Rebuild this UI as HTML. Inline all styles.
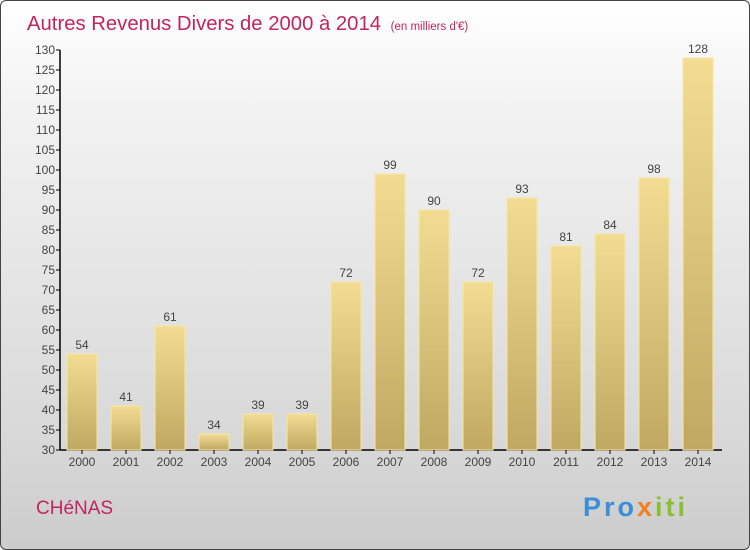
<!DOCTYPE html>
<html><head><meta charset="utf-8"><style>
body{margin:0;width:750px;height:550px;overflow:hidden;font-family:"Liberation Sans",sans-serif}
#c{position:absolute;left:0;top:0;width:748px;height:548px;border:1px solid #444;border-radius:6px;background:linear-gradient(#ffffff,#f2f2f2 20%,#d8d8d8 80%,#cccccc)}
</style></head><body>
<div id="c"></div>
<svg id="s" width="750" height="550" style="position:absolute;left:0;top:0" font-family="Liberation Sans, sans-serif">
<defs><linearGradient id="g" x1="0" y1="0" x2="0" y2="1"><stop offset="0" stop-color="#f3dc92"/><stop offset="1" stop-color="#c0a862"/></linearGradient></defs>
<text x="27" y="30" font-size="20.3" fill="#c2255e">Autres Revenus Divers de 2000 à 2014 <tspan font-size="11.5" dx="4">(en milliers d'€)</tspan></text>
<text x="36" y="514" font-size="19" fill="#c2255e">CHéNAS</text>
<text x="583" y="516" font-size="27" font-weight="bold" letter-spacing="3"><tspan fill="#3a8fd8">Pro</tspan><tspan fill="#f08020">x</tspan><tspan fill="#8ac030">iti</tspan></text>
<g id="plot"></g>
</svg>
<script>
const years=["2000","2001","2002","2003","2004","2005","2006","2007","2008","2009","2010","2011","2012","2013","2014"];
const values=[54,41,61,34,39,39,72,99,90,72,93,81,84,98,128];
const yTicks=[30,35,40,45,50,55,60,65,70,75,80,85,90,95,100,105,110,115,120,125,130];
const NS="http://www.w3.org/2000/svg";
const g=document.getElementById('plot');
const y=v=>450-(v-30)*4;
const x=i=>82+i*44;
function mk(t,a){const e=document.createElementNS(NS,t);for(const k in a)e.setAttribute(k,a[k]);g.appendChild(e);return e;}
let ax=mk('line',{x1:60,y1:50,x2:60,y2:450,stroke:'#000','stroke-width':1.5});


let bx=mk('line',{x1:60,y1:450,x2:722,y2:450,stroke:'#000','stroke-width':1.5});


yTicks.forEach(v=>{
 const t=mk('line',{x1:56,y1:y(v),x2:60,y2:y(v),stroke:'#000'});
 
 
 const l=mk('text',{x:55,y:y(v)+4,'text-anchor':'end','font-size':12,fill:'#444'});
 l.textContent=v;
 
 
});
years.forEach((yr,i)=>{
 const v=values[i];
 const r=mk('rect',{x:x(i)-15,y:y(v),width:30,height:450-y(v),fill:'url(#g)',stroke:'#f6e6a4','stroke-width':1});
 
 
 const vl=mk('text',{x:x(i),y:y(v)-5,'text-anchor':'middle','font-size':12,fill:'#444'});
 vl.textContent=v;
 
 
 const t=mk('line',{x1:x(i),y1:450,x2:x(i),y2:454,stroke:'#000'});
 
 
 const xl=mk('text',{x:x(i),y:466,'text-anchor':'middle','font-size':12,fill:'#444'});
 xl.textContent=yr;
 
 
});
</script>
</body></html>
